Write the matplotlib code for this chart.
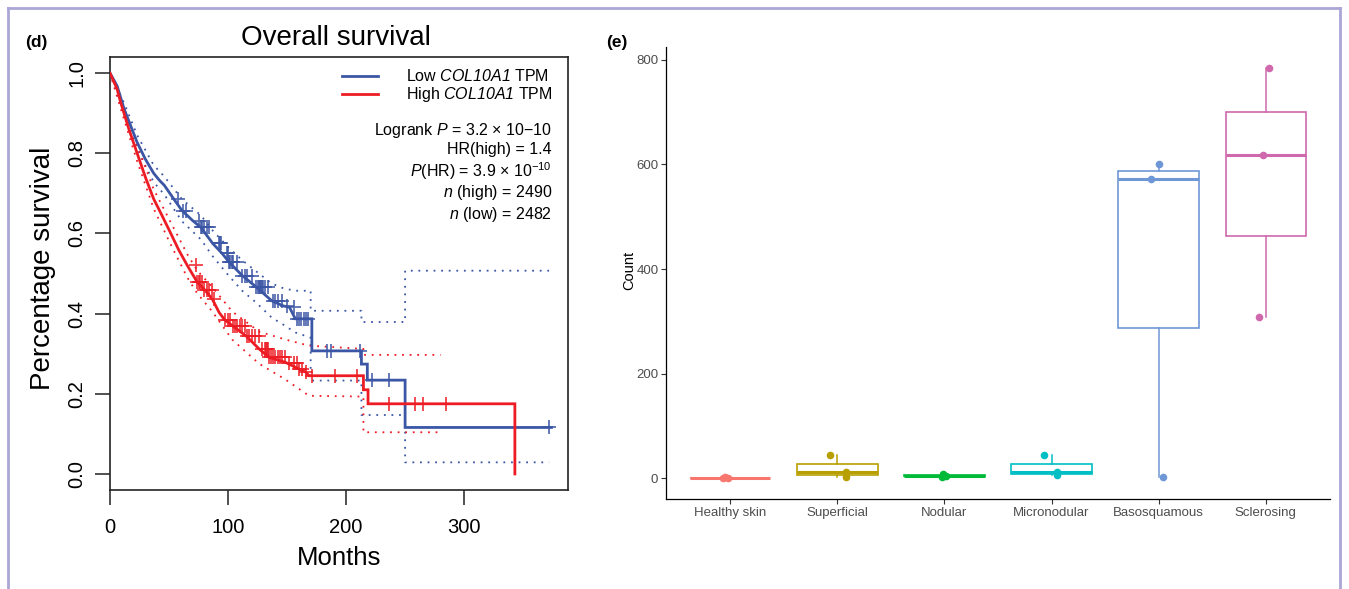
import numpy as np
import matplotlib
matplotlib.use("Agg")
import matplotlib.pyplot as plt
from matplotlib.lines import Line2D

plt.rcParams['font.family'] = ['Liberation Sans', 'DejaVu Sans']
plt.rcParams['mathtext.fontset'] = 'custom'
plt.rcParams['mathtext.rm'] = 'Liberation Sans'
plt.rcParams['mathtext.it'] = 'Liberation Sans:italic'
plt.rcParams['mathtext.sf'] = 'Liberation Sans:italic'
plt.rcParams['mathtext.bf'] = 'Liberation Sans:bold'

# ---------------- Panel (d): Kaplan-Meier data ----------------
low_t = [0, 6, 12, 23, 30, 37, 42, 46, 50, 54, 61, 70, 77, 87, 95, 101, 112, 124, 137, 147, 152, 157,
         171, 171, 213, 213, 218, 218, 250, 250, 374]
low_s = [1.0, 0.968, 0.91, 0.827, 0.785, 0.75, 0.732, 0.72, 0.703, 0.686, 0.657, 0.632, 0.615, 0.575,
         0.55, 0.528, 0.495, 0.466, 0.432, 0.419, 0.416, 0.387,
         0.387, 0.307, 0.307, 0.274, 0.274, 0.234, 0.234, 0.116, 0.116]
low_ci_t = [0, 12, 23, 37, 46, 61, 77, 87, 101, 112, 124, 137, 147, 157, 170,
            170, 213, 213, 250, 250, 372]
low_ci_up = [1.0, 0.925, 0.845, 0.77, 0.742, 0.685, 0.645, 0.607, 0.563, 0.533, 0.505, 0.475,
             0.463, 0.457, 0.457, 0.407, 0.407, 0.379, 0.379, 0.507, 0.507]
low_ci_lo = [1.0, 0.895, 0.81, 0.728, 0.697, 0.63, 0.585, 0.543, 0.493, 0.457, 0.427, 0.39,
             0.372, 0.353, 0.34, 0.233, 0.233, 0.147, 0.147, 0.029, 0.029]
low_cens = [58, 62, 64, 75, 77, 78, 80, 82, 84, 92, 93, 94, 99, 100, 101, 102, 103, 104, 108, 112,
            114, 116, 120, 124, 125, 126, 127, 128, 129, 130, 131, 134, 138, 140, 142, 146, 150,
            156, 158, 160, 162, 164, 166, 168, 184, 187, 212, 222, 236, 372]

high_t = [0, 6, 9, 16, 23, 30, 37, 44, 51, 58, 65.5, 74, 80, 86.7, 92.4, 97, 103.6, 115, 126.3,
          134.7, 148.9, 160, 165.8, 168.6, 214.7, 214.7, 218.6, 218.6, 343, 343]
high_s = [1.0, 0.96, 0.927, 0.86, 0.80, 0.74, 0.686, 0.645, 0.603, 0.56, 0.52, 0.478, 0.46,
          0.436, 0.403, 0.385, 0.37, 0.345, 0.312, 0.291, 0.278, 0.262, 0.254, 0.245,
          0.245, 0.21, 0.21, 0.175, 0.175, 0.0]
high_ci_t = [0, 9, 23, 37, 51, 65.5, 74, 86.7, 103.6, 126.3, 148.9, 168.6,
             214.7, 214.7, 280]
high_ci_up = [1.0, 0.94, 0.82, 0.71, 0.63, 0.548, 0.507, 0.466, 0.405, 0.355, 0.335, 0.32,
              0.312, 0.297, 0.297]
high_ci_lo = [1.0, 0.912, 0.78, 0.662, 0.575, 0.49, 0.45, 0.405, 0.335, 0.275, 0.235, 0.195,
              0.193, 0.104, 0.104]
high_cens = [73, 74, 75, 76, 78, 80, 82, 84, 86, 88, 97, 100, 102, 104, 106, 108, 110, 112, 114,
             116, 118, 120, 123, 126, 129, 131, 132, 133, 134, 135, 136, 138, 140, 142, 144, 146,
             148, 152, 156, 158, 160, 163, 166, 171, 191, 209, 236, 258, 265, 285]

legend_labels = [r"Low $\mathsf{COL10A1}$ TPM", r"High $\mathsf{COL10A1}$ TPM"]
stats_lines = [r"Logrank $\it{P}$ = 3.2 × 10−10",
               "HR(high) = 1.4",
               r"$\it{P}$(HR) = 3.9 × 10$^{-10}$",
               r"$\it{n}$ (high) = 2490",
               r"$\it{n}$ (low) = 2482"]

# ---------------- Panel (e): box plot data ----------------
categories = ["Healthy skin", "Superficial", "Nodular", "Micronodular", "Basosquamous", "Sclerosing"]
counts = [[0, 1, 2],
          [2, 13, 44],
          [3, 5, 9],
          [6, 12, 45],
          [2, 572, 601],
          [308, 617, 785]]
jitter = [[-0.07, -0.02, -0.05],
          [0.08, 0.08, -0.07],
          [-0.02, 0.01, -0.01],
          [0.05, 0.05, -0.07],
          [0.04, -0.07, 0.0],
          [-0.06, -0.03, 0.03]]
box_colors = ["#F8766D", "#B79F00", "#00BA38", "#00BFC4", "#6f97d6", "#cf68ad"]

BLUE = "#3b56a5"
RED = "#ed1c24"

W, H = 1349, 589
fig = plt.figure(figsize=(W / 100, H / 100), dpi=100)

# lavender frame
fcol = "#aaa6d6"
fig.add_artist(Line2D([8 / W, 8 / W], [0, 1 - 8 / H], color=fcol, lw=2, transform=fig.transFigure))
fig.add_artist(Line2D([8 / W, 1340 / W], [1 - 8 / H, 1 - 8 / H], color=fcol, lw=2, transform=fig.transFigure))
fig.add_artist(Line2D([1340 / W, 1340 / W], [0, 1 - 8 / H], color=fcol, lw=2, transform=fig.transFigure))

# ---------------- Left axes ----------------
ax1 = fig.add_axes([110 / W, 1 - 490 / H, 458 / W, 433 / H])
ax1.set_xlim(0, 388)
ax1.set_ylim(-0.04, 1.04)


def step_value(ts, ss, c):
    idx = max(i for i, t in enumerate(ts) if t <= c)
    return ss[idx]


for ts, ss, ct, cu, cl, cens, col in [
        (low_t, low_s, low_ci_t, low_ci_up, low_ci_lo, low_cens, BLUE),
        (high_t, high_s, high_ci_t, high_ci_up, high_ci_lo, high_cens, RED)]:
    ax1.plot(ct, cu, color=col, lw=1.3, ls=(0, (1, 3.2)), zorder=2)
    ax1.plot(ct, cl, color=col, lw=1.3, ls=(0, (1, 3.2)), zorder=2)
    ax1.plot(ts, ss, color=col, lw=2.0, zorder=3, solid_joinstyle='miter')
    cy = [step_value(ts, ss, c) for c in cens]
    ax1.plot(cens, cy, ls='none', marker='+', ms=10, mew=1.3, color=col, alpha=0.85, zorder=4)

ax1.set_xticks([0, 100, 200, 300])
ax1.set_yticks([0, 0.2, 0.4, 0.6, 0.8, 1.0])
ax1.set_yticklabels(["0.0", "0.2", "0.4", "0.6", "0.8", "1.0"], rotation=90, va='center')
ax1.tick_params(axis='both', labelsize=14.5, length=11, width=1.2, color='#333333')
ax1.tick_params(axis='x', pad=9)
ax1.tick_params(axis='y', pad=6)
for sp in ax1.spines.values():
    sp.set_linewidth(1.2)
    sp.set_color('#222222')

# legend
for i, (lab, col) in enumerate(zip(legend_labels, [BLUE, RED])):
    yy = [0.956, 0.914][i]
    ax1.plot([0.507, 0.585], [yy, yy], transform=ax1.transAxes, color=col, lw=2.0, clip_on=False)
    ax1.text(0.646, yy, lab, transform=ax1.transAxes, fontsize=11.5, va='center', ha='left')
for yy, line in zip([0.831, 0.787, 0.737, 0.686, 0.637], stats_lines):
    ax1.text(0.965, yy, line, transform=ax1.transAxes, fontsize=11.5, va='center', ha='right')

fig.text(336 / W, 1 - 38 / H, "Overall survival", fontsize=20, ha='center', va='center')
fig.text(43 / W, 1 - 268 / H, "Percentage survival", fontsize=20, rotation=90, ha='center', va='center')
fig.text(339 / W, 1 - 558 / H, "Months", fontsize=18.5, ha='center', va='center')
fig.text(25 / W, 1 - 42 / H, "(d)", fontsize=12.5, fontweight='bold', ha='left', va='center')
fig.text(606 / W, 1 - 42 / H, "(e)", fontsize=12.5, fontweight='bold', ha='left', va='center')

# ---------------- Right axes ----------------
ax2 = fig.add_axes([666 / W, 1 - 499 / H, 664 / W, 452 / H])
allv = [v for g in counts for v in g]
rng = max(allv) - min(allv)
ax2.set_xlim(0.4, 6.6)
ax2.set_ylim(min(allv) - 0.05 * rng, max(allv) + 0.05 * rng)
pos = np.arange(1, len(categories) + 1)
for i, (vals, col) in enumerate(zip(counts, box_colors)):
    ax2.boxplot([vals], positions=[pos[i]], widths=0.75, showfliers=False,
                patch_artist=True,
                boxprops=dict(facecolor='white', edgecolor=col, linewidth=1.2),
                medianprops=dict(color=col, linewidth=2.2),
                whiskerprops=dict(color=col, linewidth=1.1),
                capprops=dict(linewidth=0),
                manage_ticks=False)
    ax2.scatter(pos[i] + np.array(jitter[i]), vals, s=30, color=col, zorder=5, linewidths=0)

ax2.set_xticks(pos)
ax2.set_xticklabels(categories)
ax2.set_yticks([0, 200, 400, 600, 800])
ax2.tick_params(axis='both', labelsize=9.5, labelcolor='#4d4d4d', length=3.5, width=0.8,
                color='#333333', pad=2)
for s in ['top', 'right']:
    ax2.spines[s].set_visible(False)
for s in ['left', 'bottom']:
    ax2.spines[s].set_linewidth(0.9)
    ax2.spines[s].set_color('black')
fig.text(629 / W, 1 - 270 / H, "Count", fontsize=10.5, rotation=90, ha='center', va='center')

fig.savefig("out.png", dpi=100, facecolor='white')
